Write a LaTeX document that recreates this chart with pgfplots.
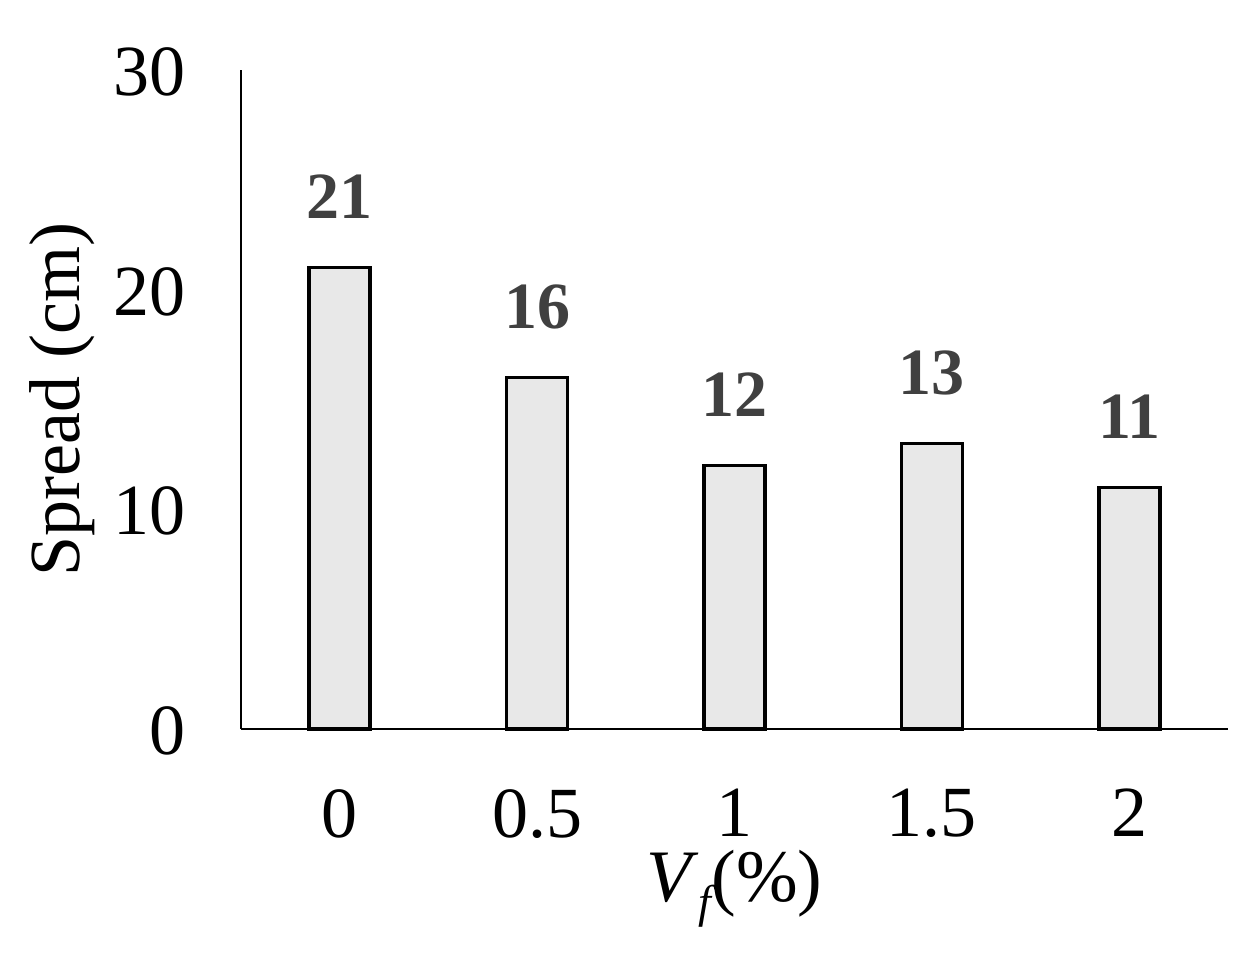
\documentclass[border=0pt]{standalone}
\usepackage{fontspec}
\setmainfont{Liberation Serif}
\usepackage{pgfplots}
\pgfplotsset{compat=1.18}
\definecolor{barfill}{HTML}{E8E8E8}
\definecolor{lblcol}{HTML}{404040}
\begin{document}
\begin{tikzpicture}
\begin{axis}[
  scale only axis,
  width=246.75pt, height=164.75pt,
  xmin=-0.5, xmax=4.5, ymin=0, ymax=30,
  axis x line=bottom, axis y line=left,
  axis line style={-, line width=0.7pt, black},
  xtick={0,1,2,3,4},
  xticklabels={0,0.5,1,1.5,2},
  ytick={0,10,20,30},
  major tick length=0pt,
  /pgf/number format/assume math mode=true,
  tick label style={font=\fontsize{18}{21}\selectfont},
  xticklabel style={yshift=-11.5pt},
  yticklabel style={xshift=-10.25pt, yshift=-0.5pt},
  ylabel={Spread (cm)},
  every axis y label/.style={at={(axis description cs:-0.1813,0.5)}, rotate=90, anchor=center, font=\fontsize{18}{21}\selectfont},
  every axis x label/.style={at={(axis description cs:0.5,0)}, anchor=base, inner sep=0pt, yshift=-43.25pt, font=\fontsize{18.5}{21}\selectfont},
  xlabel={\textit{V}\raisebox{-4pt}{\fontsize{11.5}{13}\selectfont\itshape f}(\%)},
  clip=false,
]
\addplot[ybar, bar width=15.25pt, fill=barfill, draw=black, line width=0.9pt,
  nodes near coords,
  every node near coord/.style={anchor=base, yshift=12.25pt, inner sep=0pt, text=lblcol, font=\fontsize{16.5}{19}\selectfont\bfseries}]
  coordinates {(0,21) (1,16) (2,12) (3,13) (4,11)};
\end{axis}
\pgfresetboundingbox
\path ([shift={(-60.25pt,-57.75pt)}]current axis.south west) rectangle ([shift={(5.75pt,17.5pt)}]current axis.north east);
\end{tikzpicture}
\end{document}
